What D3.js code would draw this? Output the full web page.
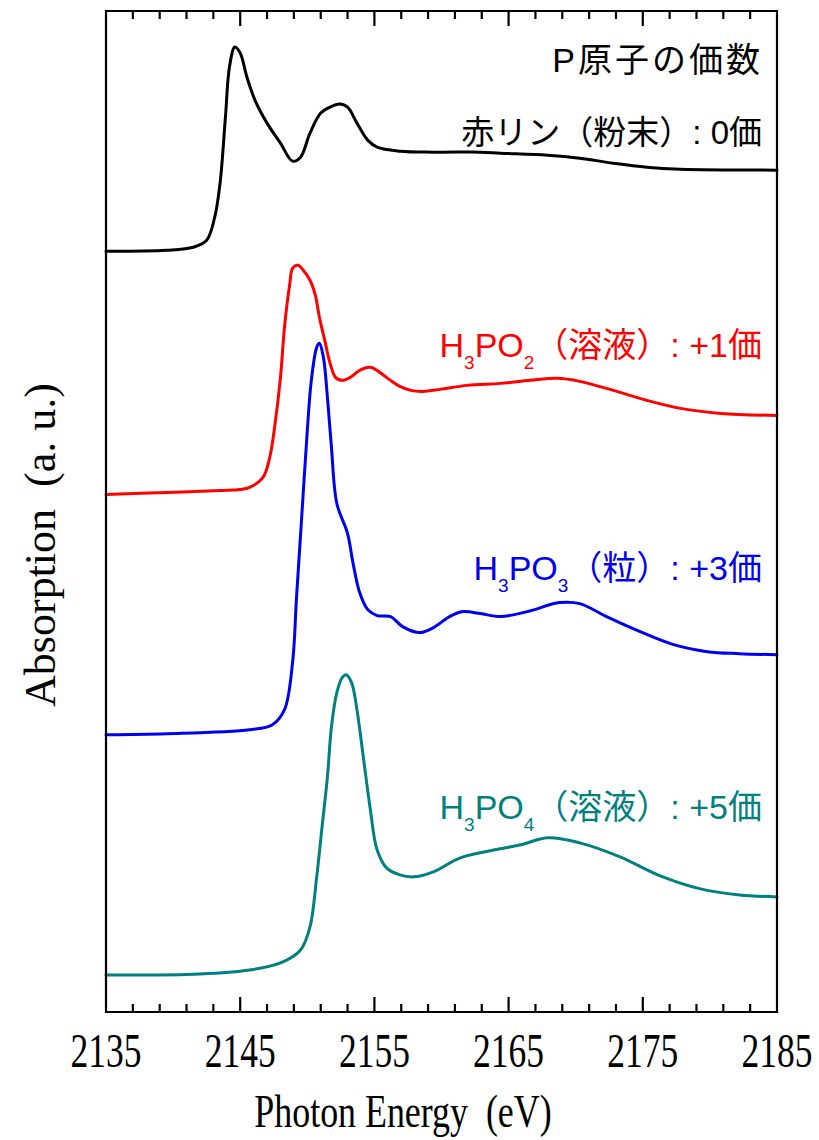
<!DOCTYPE html>
<html>
<head>
<meta charset="utf-8">
<script src="https://cdn.jsdelivr.net/npm/d3@7"></script>
<style>
  html, body { margin: 0; padding: 0; background: #fff; }
  svg { display: block; }
  text { white-space: pre; }
</style>
</head>
<body>
<svg id="chart" width="819" height="1140" xmlns="http://www.w3.org/2000/svg"></svg>
<script>
// ---- P K-edge XANES spectra (normalised absorption, stacked) ----

// Photon energy axis
const majorTicks = [2135, 2145, 2155, 2165, 2175, 2185];
const minorTicks = [2137, 2139, 2141, 2143, 2147, 2149, 2151, 2153, 2157, 2159, 2161, 2163,
                    2167, 2169, 2171, 2173, 2177, 2179, 2181, 2183];

// Red phosphorus (powder), P(0)
const redPE  = [2135.0, 2139.5, 2141.5, 2142.5, 2143.1, 2143.5, 2143.9, 2144.2, 2144.6, 2145.0,
                2145.5, 2146.1, 2147.0, 2148.0, 2148.9, 2149.5, 2150.2, 2151.0, 2151.7, 2152.4,
                2153.0, 2153.7, 2154.5, 2155.2, 2156.9, 2159.4, 2162.9, 2164.4, 2167.9, 2170.3,
                2172.8, 2175.3, 2177.8, 2185.0];
const redPMu = [0.00, 0.01, 0.04, 0.11, 0.34, 0.68, 1.34, 1.84, 2.04, 1.98,
                1.74, 1.51, 1.28, 1.08, 0.90, 0.94, 1.18, 1.38, 1.44, 1.47,
                1.44, 1.28, 1.11, 1.04, 1.00, 0.99, 0.99, 0.98, 0.96, 0.93,
                0.88, 0.84, 0.82, 0.81];

// H3PO2 (solution), P(+1)
const h3po2E  = [2135.0, 2139.5, 2143.5, 2145.0, 2145.7, 2146.7, 2147.2, 2147.6, 2148.0, 2148.3,
                 2148.7, 2148.9, 2149.3, 2149.7, 2150.2, 2150.6, 2150.9, 2151.3, 2151.7, 2152.1,
                 2152.6, 2153.2, 2153.9, 2154.7, 2155.4, 2156.2, 2156.9, 2157.7, 2158.6, 2159.9,
                 2161.9, 2164.4, 2166.6, 2168.6, 2170.3, 2172.8, 2175.3, 2177.8, 2180.8, 2185.0];
const h3po2Mu = [0.00, 0.02, 0.04, 0.05, 0.07, 0.17, 0.37, 0.71, 1.17, 1.67,
                 2.11, 2.26, 2.29, 2.24, 2.14, 1.99, 1.77, 1.54, 1.31, 1.17,
                 1.14, 1.17, 1.24, 1.27, 1.22, 1.14, 1.08, 1.04, 1.03, 1.05,
                 1.09, 1.11, 1.14, 1.16, 1.13, 1.04, 0.94, 0.86, 0.81, 0.79];

// H3PO3 (granules), P(+3)
const h3po3E  = [2135.0, 2139.5, 2145.7, 2147.4, 2148.3, 2148.9, 2149.2, 2149.6, 2150.0, 2150.3,
                 2150.7, 2150.9, 2151.2, 2151.5, 2151.8, 2152.2, 2153.0, 2153.4, 2153.9, 2154.5,
                 2155.2, 2156.2, 2157.1, 2158.4, 2159.4, 2160.6, 2161.6, 2162.9, 2164.4, 2166.4,
                 2168.8, 2170.3, 2172.3, 2174.8, 2177.3, 2179.8, 2182.2, 2185.0];
const h3po3Mu = [0.00, 0.01, 0.05, 0.10, 0.25, 0.72, 1.38, 2.21, 3.04, 3.54,
                 3.87, 3.91, 3.77, 3.37, 2.87, 2.31, 2.01, 1.72, 1.42, 1.25,
                 1.19, 1.18, 1.08, 1.02, 1.07, 1.18, 1.23, 1.21, 1.18, 1.23,
                 1.32, 1.31, 1.18, 1.03, 0.90, 0.83, 0.81, 0.80];

// H3PO4 (solution), P(+5)
const h3po4E  = [2135.0, 2142.0, 2145.7, 2148.0, 2149.5, 2150.2, 2150.7, 2151.1, 2151.5, 2151.8,
                 2152.2, 2152.6, 2152.9, 2153.3, 2153.7, 2154.2, 2154.7, 2155.2, 2155.9, 2156.9,
                 2157.9, 2159.4, 2161.4, 2164.4, 2165.9, 2167.9, 2170.3, 2173.3, 2176.3, 2179.3,
                 2182.2, 2185.0];
const h3po4Mu = [0.00, 0.01, 0.05, 0.12, 0.25, 0.48, 0.98, 1.48, 1.98, 2.48,
                 2.82, 2.97, 3.00, 2.92, 2.65, 2.15, 1.65, 1.25, 1.07, 1.00,
                 0.98, 1.03, 1.17, 1.26, 1.30, 1.37, 1.32, 1.18, 0.99, 0.86,
                 0.80, 0.78];

// Vertical stacking offsets (a.u.)
const offsets = [7.6, 5.17, 2.77, 0.37];

// Series labels as runs of [text, isSubscript]
const seriesLabels = [
  [["赤リン（粉末）: 0価", false]],
  [["H", false], ["3", true], ["PO", false], ["2", true], ["（溶液）: +1価", false]],
  [["H", false], ["3", true], ["PO", false], ["3", true], ["（粒）: +3価", false]],
  [["H", false], ["3", true], ["PO", false], ["4", true], ["（溶液）: +5価", false]]
];
const headerLabel = "P原子の価数";
const xTitle = "Photon Energy  (eV)";
const yTitle = "Absorption  (a. u.)";

const seriesColors = ["#000000", "#ff0000", "#0000f0", "#008080"];

const spectra = [
  { e: redPE,  mu: redPMu },
  { e: h3po2E, mu: h3po2Mu },
  { e: h3po3E, mu: h3po3Mu },
  { e: h3po4E, mu: h3po4Mu }
];

// ---- layout ----
const frame = { left: 106, right: 777, top: 11, bottom: 1012 };
const svg = d3.select("#chart");

const x = d3.scaleLinear().domain([2135, 2185]).range([frame.left, frame.right]);
const y = d3.scaleLinear().domain([0, 10]).range([frame.bottom, frame.top]);

const serif = "'Liberation Serif', 'Times New Roman', serif";
const jpFont = "'Liberation Sans', 'Noto Sans CJK JP', sans-serif";

// spectra
const line = d3.line()
  .x(d => x(d[0]))
  .y(d => y(d[1]))
  .curve(d3.curveCatmullRom.alpha(0.5));

spectra.forEach((s, i) => {
  const pts = s.e.map((e, j) => [e, s.mu[j] + offsets[i]]);
  svg.append("path")
    .datum(pts)
    .attr("d", line)
    .attr("fill", "none")
    .attr("stroke", seriesColors[i])
    .attr("stroke-width", 3)
    .attr("stroke-linejoin", "round")
    .attr("stroke-linecap", "round");
});

// frame outline plus inward ticks on the bottom and top edges, one path
const fp = d3.path();
fp.rect(frame.left, frame.top, frame.right - frame.left, frame.bottom - frame.top);
majorTicks.forEach(v => {
  fp.moveTo(x(v), frame.bottom); fp.lineTo(x(v), frame.bottom - 15);
  fp.moveTo(x(v), frame.top);    fp.lineTo(x(v), frame.top + 15);
});
minorTicks.forEach(v => {
  fp.moveTo(x(v), frame.bottom); fp.lineTo(x(v), frame.bottom - 8);
  fp.moveTo(x(v), frame.top);    fp.lineTo(x(v), frame.top + 8);
});
svg.append("path")
  .attr("d", fp.toString())
  .attr("fill", "none")
  .attr("stroke", "#000")
  .attr("stroke-width", 2.2);

// tick labels
svg.append("g").selectAll("text").data(majorTicks).enter().append("text")
  .attr("transform", d => `translate(${x(d)},1067) scale(0.74,1)`)
  .attr("text-anchor", "middle")
  .attr("font-family", serif)
  .attr("font-size", 48)
  .text(d3.format("d"));

// axis titles
svg.append("text")
  .attr("transform", "translate(403,1127) scale(0.78,1)")
  .attr("text-anchor", "middle")
  .attr("font-family", serif).attr("font-size", 46)
  .text(xTitle);

svg.append("text")
  .attr("transform", "translate(55,545) rotate(-90)")
  .attr("text-anchor", "middle")
  .attr("font-family", serif).attr("font-size", 44)
  .text(yTitle);

// header
svg.append("text")
  .attr("x", 763).attr("y", 72)
  .attr("text-anchor", "end")
  .attr("font-family", jpFont).attr("font-size", 34)
  .attr("letter-spacing", 3)
  .text(headerLabel);

// series labels with subscripts
const labelBaselines = [144, 357, 580, 819];
seriesLabels.forEach((runs, i) => {
  const t = svg.append("text")
    .attr("x", 762).attr("y", labelBaselines[i])
    .attr("text-anchor", "end")
    .attr("font-family", jpFont)
    .attr("font-size", i === 0 ? 33 : 34)
    .attr("fill", seriesColors[i]);
  runs.forEach(([s, sub], k) => {
    const ts = t.append("tspan").text(s);
    if (sub) ts.attr("font-size", 19).attr("dy", 12);
    else if (k > 0 && runs[k - 1][1]) ts.attr("dy", -12);
  });
});
</script>
</body>
</html>
